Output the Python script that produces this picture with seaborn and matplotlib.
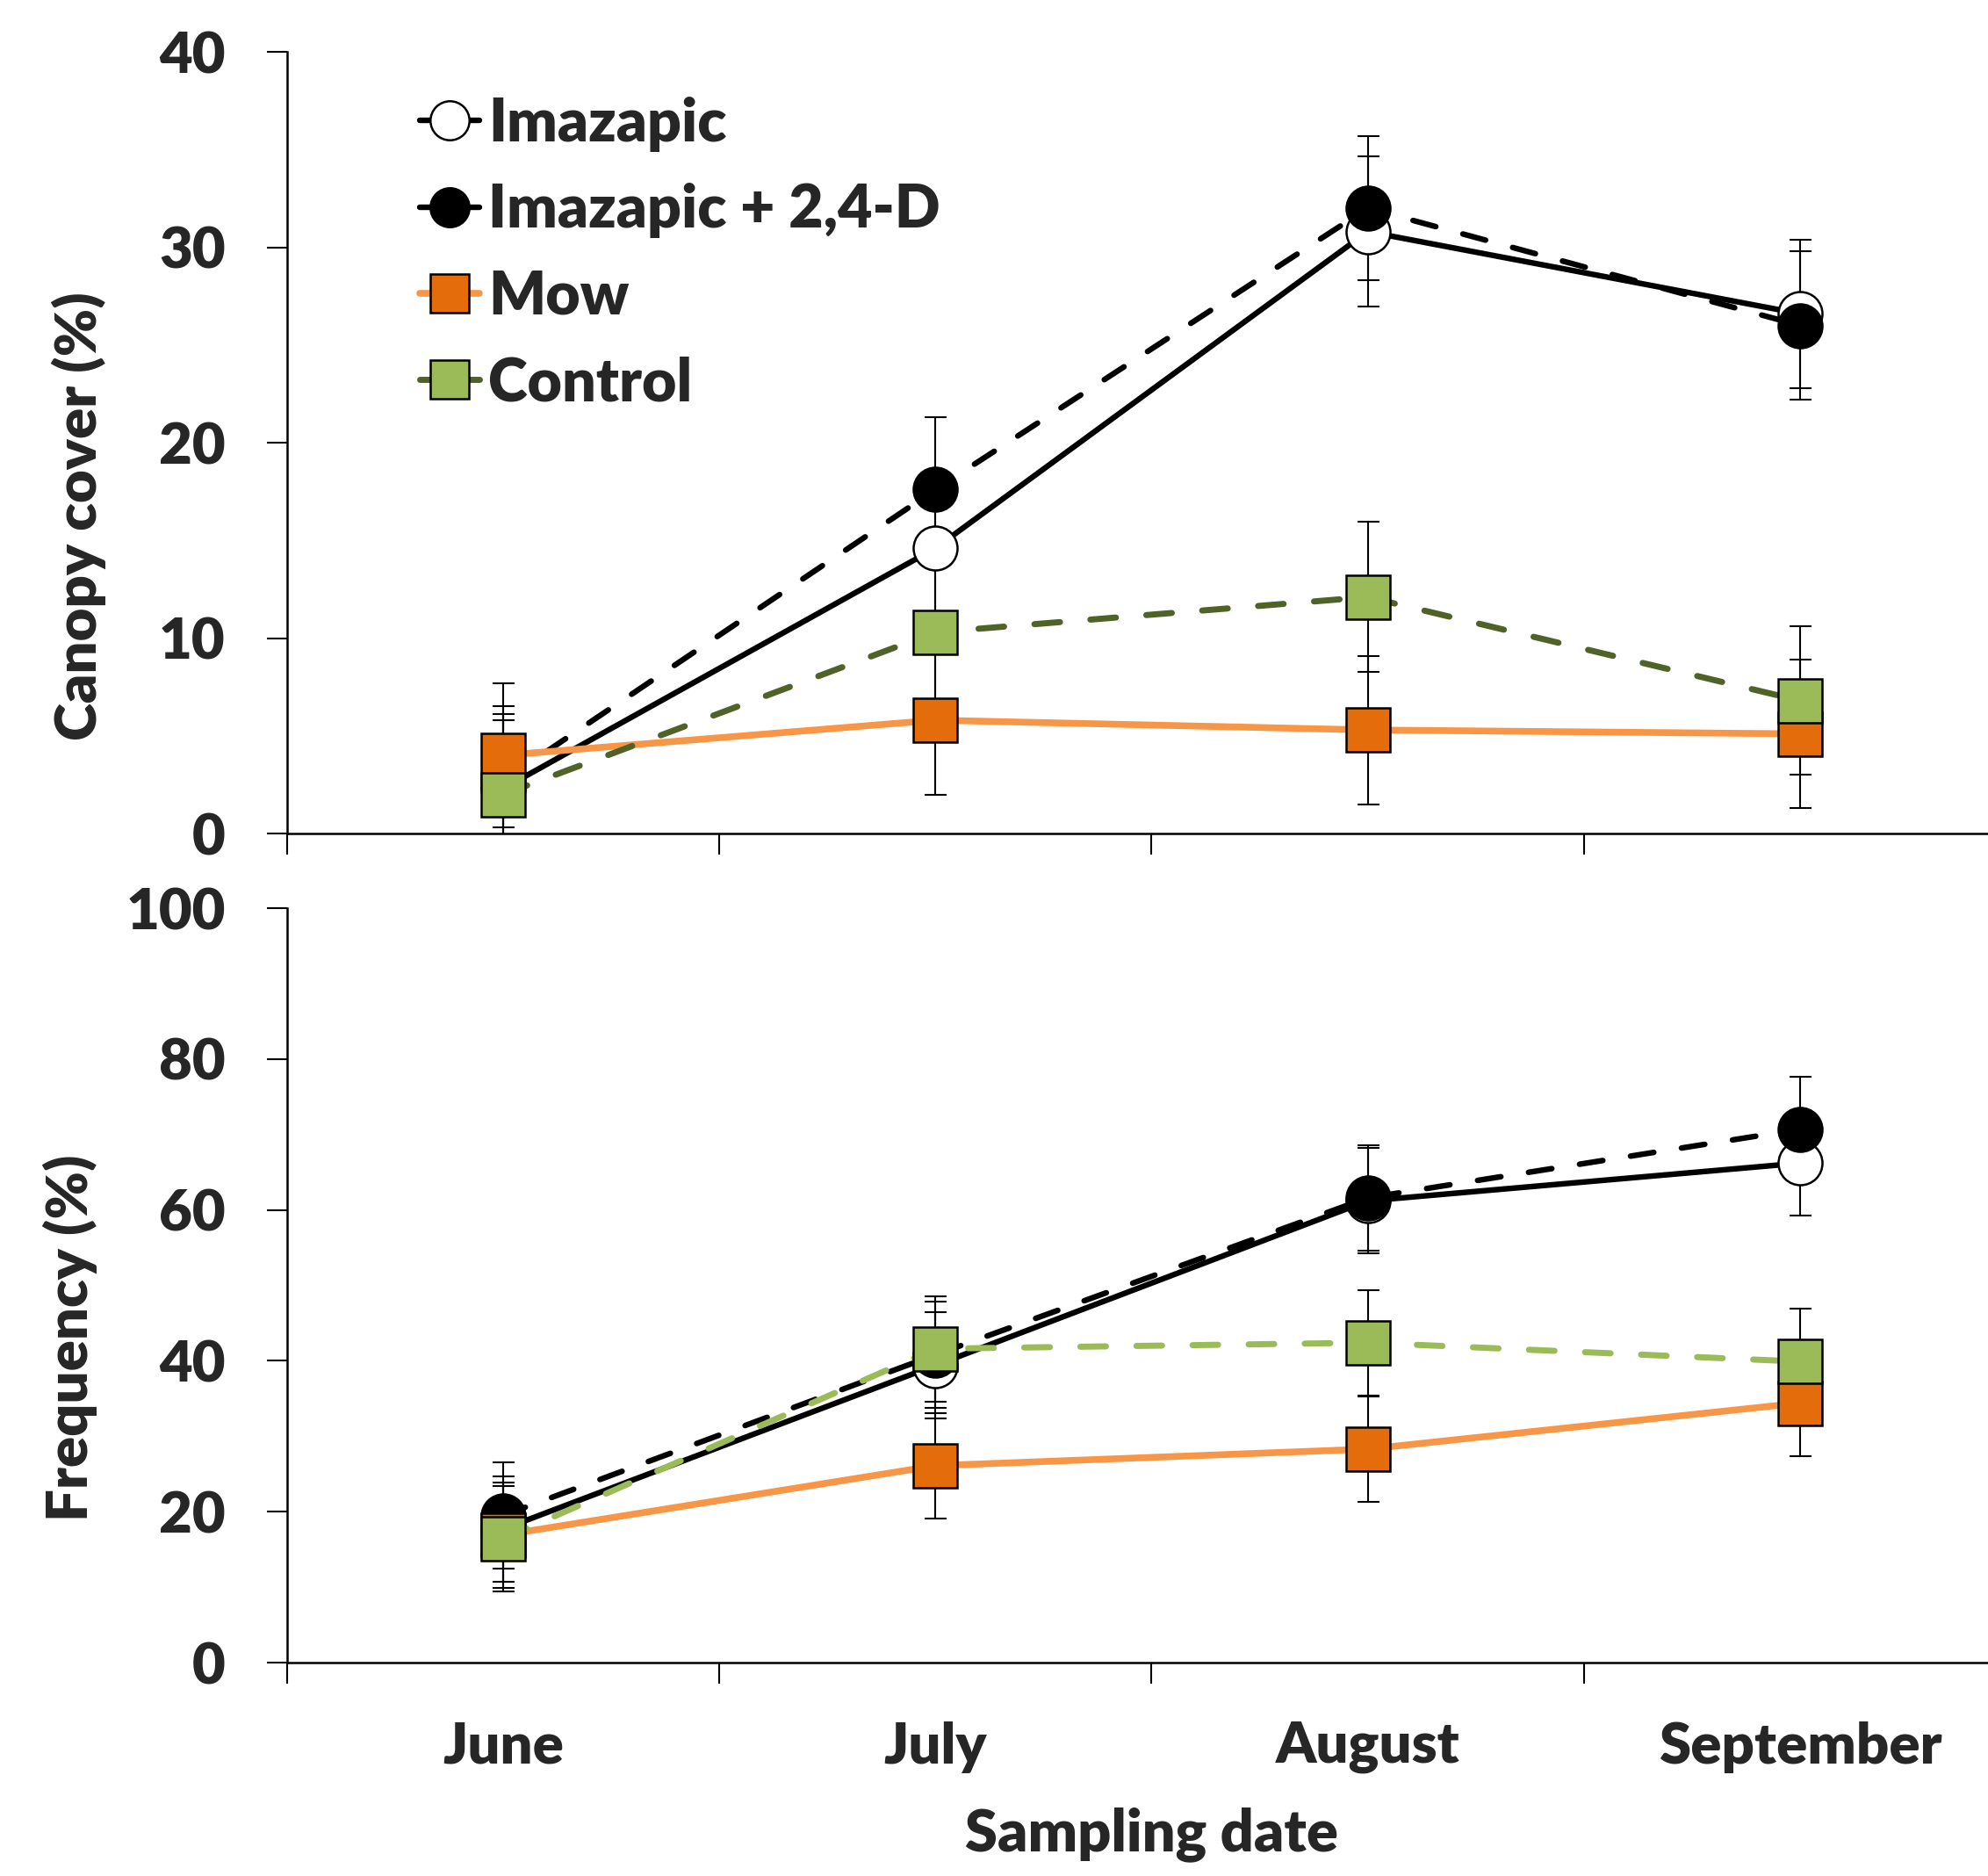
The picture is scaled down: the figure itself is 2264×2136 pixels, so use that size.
import pandas as pd
import matplotlib
matplotlib.use('Agg')
import matplotlib.pyplot as plt
from matplotlib.lines import Line2D
import seaborn as sns

# data
months = ['June', 'July', 'August', 'September']
treatments = ['Imazapic', 'Imazapic + 2,4-D', 'Mow', 'Control']

# canopy cover (%)
cover_imazapic = [2.3, 14.6, 30.8, 26.6]
cover_imaz_24d = [2.7, 17.6, 32.0, 26.0]
cover_mow = [4.0, 5.8, 5.3, 5.1]
cover_control = [2.0, 10.3, 12.1, 6.8]
cover_err_imazapic = [3.8, 3.8, 3.85, 3.8]
cover_err_imaz_24d = [3.8, 3.7, 3.7, 3.8]
cover_err_mow = [3.7, 3.8, 3.8, 3.8]
cover_err_control = [3.8, 3.8, 3.85, 3.8]

# frequency (%)
freq_imazapic = [17.7, 39.4, 61.2, 66.2]
freq_imaz_24d = [19.5, 40.8, 61.6, 70.7]
freq_mow = [16.9, 26.1, 28.3, 34.4]
freq_control = [16.4, 41.6, 42.4, 39.9]
freq_err_imazapic = [7.0, 7.0, 7.0, 7.0]
freq_err_imaz_24d = [7.0, 7.0, 7.0, 7.0]
freq_err_mow = [7.0, 7.0, 7.0, 7.0]
freq_err_control = [7.0, 7.0, 7.0, 7.0]


def long_table(vals, errs):
    rows = []
    for trt, v, e in zip(treatments, vals, errs):
        for i, m in enumerate(months):
            rows.append({'treatment': trt, 'month': m, 'pos': i, 'value': v[i], 'err': e[i]})
    return pd.DataFrame(rows)


cover = long_table([cover_imazapic, cover_imaz_24d, cover_mow, cover_control],
                   [cover_err_imazapic, cover_err_imaz_24d, cover_err_mow, cover_err_control])
freq = long_table([freq_imazapic, freq_imaz_24d, freq_mow, freq_control],
                  [freq_err_imazapic, freq_err_imaz_24d, freq_err_mow, freq_err_control])

# styles
dash = (0, (4.2, 5.0))
line_col = {'Imazapic': 'black', 'Imazapic + 2,4-D': 'black', 'Mow': '#F79646', 'Control': '#4F6228'}
fill_col = {'Imazapic': 'white', 'Imazapic + 2,4-D': 'black', 'Mow': '#E46C0A', 'Control': '#9BBB59'}
marker = {'Imazapic': 'o', 'Imazapic + 2,4-D': 'o', 'Mow': 's', 'Control': 's'}
lstyle = {'Imazapic': '-', 'Imazapic + 2,4-D': dash, 'Mow': '-', 'Control': dash}
lwidth = {'Imazapic': 4.6, 'Imazapic + 2,4-D': 4.6, 'Mow': 5.5, 'Control': 5.0}
MS = 36

sns.set_theme(style='ticks')
plt.rcParams['font.family'] = ['Lato', 'DejaVu Sans']
plt.rcParams['font.weight'] = 'heavy'
plt.rcParams['axes.labelweight'] = 'heavy'
FS = 47
FW = 'heavy'

fig = plt.figure(figsize=(22.64, 21.36), dpi=100)
ax1 = fig.add_axes([0.1444, 0.5557, 0.8556, 0.41667])
ax2 = fig.add_axes([0.1444, 0.11376, 0.8556, 0.40215])


def draw(ax, df, ctrl_color):
    # error bars underneath every marker
    for trt in treatments:
        d = df[df.treatment == trt]
        ax.errorbar(d['pos'], d['value'], yerr=d['err'], fmt='none', ecolor='black',
                    elinewidth=1.5, capsize=9, capthick=1.5, zorder=2)
    for k, trt in enumerate(treatments):
        d = df[df.treatment == trt]
        col = ctrl_color if trt == 'Control' else line_col[trt]
        sns.lineplot(data=d, x='pos', y='value', ax=ax, color=col, linewidth=lwidth[trt],
                     linestyle=lstyle[trt], marker=marker[trt], markersize=MS,
                     markerfacecolor=fill_col[trt], markeredgecolor='black',
                     markeredgewidth=1.8, dash_capstyle='round', zorder=3 + k, legend=False)


draw(ax1, cover, '#4F6228')
draw(ax2, freq, '#9BBB59')

for ax in (ax1, ax2):
    sns.despine(ax=ax)
    for s in ('left', 'bottom'):
        ax.spines[s].set_linewidth(1.8)
        ax.spines[s].set_color('black')
    ax.set_xticks([-0.5, 0.5, 1.5, 2.5])
    ax.set_xticklabels([])
    ax.set_xticks(range(len(months)), minor=True)
    ax.set_xlim(-0.5, 3.435)
    ax.tick_params(axis='x', which='major', direction='out', length=17, width=1.5, color='black')
    ax.tick_params(axis='y', which='major', direction='out', length=16.5, width=1.5, color='black',
                   pad=34, labelsize=FS)
    ax.tick_params(axis='x', which='minor', length=0, pad=48, labelsize=FS)
    ax.set_xlabel('')
    ax.set_ylabel('')
    ax.grid(False)

ax1.set_ylim(0, 40)
ax1.set_yticks([0, 10, 20, 30, 40])
ax1.set_xticklabels([], minor=True)
ax2.set_ylim(0, 100)
ax2.set_yticks([0, 20, 40, 60, 80, 100])
ax2.set_xticklabels(months, minor=True, fontweight=FW)
for lab in ax1.get_yticklabels() + ax2.get_yticklabels():
    lab.set_fontweight(FW)

fig.text(90 / 2264, 1 - 588 / 2136, 'Canopy cover (%)', rotation=90, ha='center', va='center',
         fontsize=FS, fontweight=FW)
fig.text(80 / 2264, 1 - 1523 / 2136, 'Frequency (%)', rotation=90, ha='center', va='center',
         fontsize=FS, fontweight=FW)
fig.text(1311 / 2264, 1 - 2089 / 2136, 'Sampling date', ha='center', va='center',
         fontsize=FS + 1, fontweight=FW)

handles = [Line2D([0], [0], color=line_col[t], lw=lwidth[t], linestyle='-', marker=marker[t],
                  markersize=32, markerfacecolor=fill_col[t], markeredgecolor='black',
                  markeredgewidth=1.8) for t in treatments]
ax1.legend(handles, treatments, loc='upper left', bbox_to_anchor=(478 / 2264, 1 - 110 / 2136),
           bbox_transform=fig.transFigure, frameon=False, handlelength=1.0,
           handletextpad=0.15, labelspacing=0.52, borderpad=0, borderaxespad=0,
           prop={'weight': FW, 'size': FS + 2})

fig.savefig('out.png', dpi=100)
